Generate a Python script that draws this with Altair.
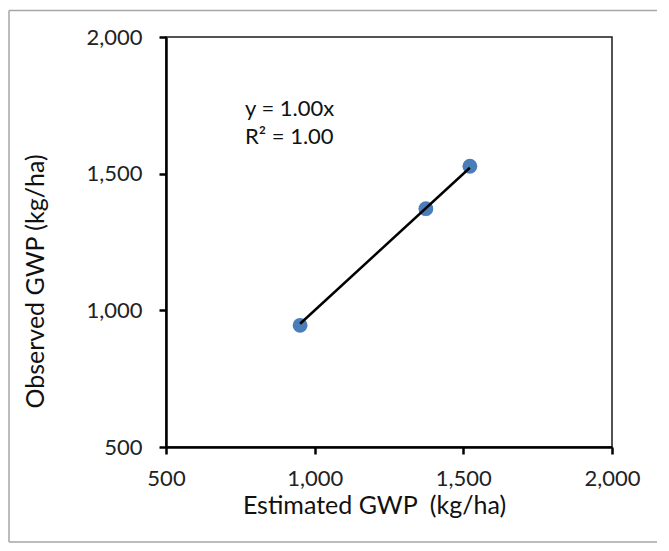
import altair as alt
import pandas as pd
import numpy as np

# Data
estimated = [951, 1374, 1522]
observed = [945, 1372, 1527]
axis_ticks = [500, 1000, 1500, 2000]

x_title = "Estimated GWP\u00a0 (kg/ha)"
y_title = "Observed GWP (kg/ha)"

df = pd.DataFrame({"est": estimated, "obs": observed})

# Linear trendline through origin (as in the Excel chart)
xa = np.array(estimated, dtype=float)
ya = np.array(observed, dtype=float)
slope = float((xa * ya).sum() / (xa * xa).sum())
r2 = 1 - float(((ya - slope * xa) ** 2).sum() / (ya ** 2).sum())
trend = pd.DataFrame({"est": [xa.min(), xa.max()],
                      "obs": [slope * xa.min(), slope * xa.max()]})

eq_label = f"y = {slope:.2f}x"
r2_label = f"R\u00b2 = {r2:.2f}"

FONT = "Lato"

xscale = alt.Scale(domain=[500, 2000], nice=False, zero=False)
yscale = alt.Scale(domain=[500, 2000], nice=False, zero=False)

common = dict(values=axis_ticks, format=",.0f", grid=False,
              titleAlign="center", titleBaseline="alphabetic",
              titleFontSize=25, titleFontWeight="normal", titleFont=FONT,
              titleColor="#111", labelFlush=False,
              labelFont=FONT, labelFontSize=22, labelColor="#222",
              tickSize=7, tickWidth=2.5, tickColor="black",
              domainColor="black", domainWidth=2.5)

xaxis = alt.Axis(title=x_title, titleX=208, titleY=66, labelPadding=14, **common)
yaxis = alt.Axis(title=y_title, titleX=-123, titleY=244, titleAngle=-90,
                 labelPadding=17, **common)

X = alt.X("est:Q", scale=xscale, axis=xaxis)
Y = alt.Y("obs:Q", scale=yscale, axis=yaxis)

one = pd.DataFrame({"a": [0]})
FRAME = dict(color="#a6a6a6", strokeWidth=1.5)
frame_left = alt.Chart(one).mark_rule(**FRAME).encode(
    x=alt.value(-157), y=alt.value(-26.5), y2=alt.value(505))
frame_top = alt.Chart(one).mark_rule(**FRAME).encode(
    x=alt.value(-157), x2=alt.value(600), y=alt.value(-26.5))
frame_bottom = alt.Chart(one).mark_rule(**FRAME).encode(
    x=alt.value(-157), x2=alt.value(600), y=alt.value(505))

pts = alt.Chart(df).mark_circle(size=220, color="#4a7ebb", opacity=1).encode(x=X, y=Y)

line = alt.Chart(trend).mark_line(color="black", strokeWidth=2.5).encode(x=X, y=Y)

t1 = alt.Chart(one).mark_text(align="left", baseline="alphabetic", font=FONT,
                              fontSize=22, color="#111", text=eq_label).encode(
    x=alt.value(79), y=alt.value(78.5))
t2 = alt.Chart(one).mark_text(align="left", baseline="alphabetic", font=FONT,
                              fontSize=22, color="#111", text=r2_label).encode(
    x=alt.value(79), y=alt.value(107))

chart = alt.layer(frame_left, frame_top, frame_bottom, pts, line, t1, t2).properties(
    width=446, height=410, background="white",
    autosize=alt.AutoSizeParams(type="none"),
    padding={"left": 158, "top": 29, "right": 45, "bottom": 96},
).configure_view(stroke="#1a1a1a", strokeWidth=1.5)

chart.save("out.html", embed_options={"renderer": "svg", "actions": False})
